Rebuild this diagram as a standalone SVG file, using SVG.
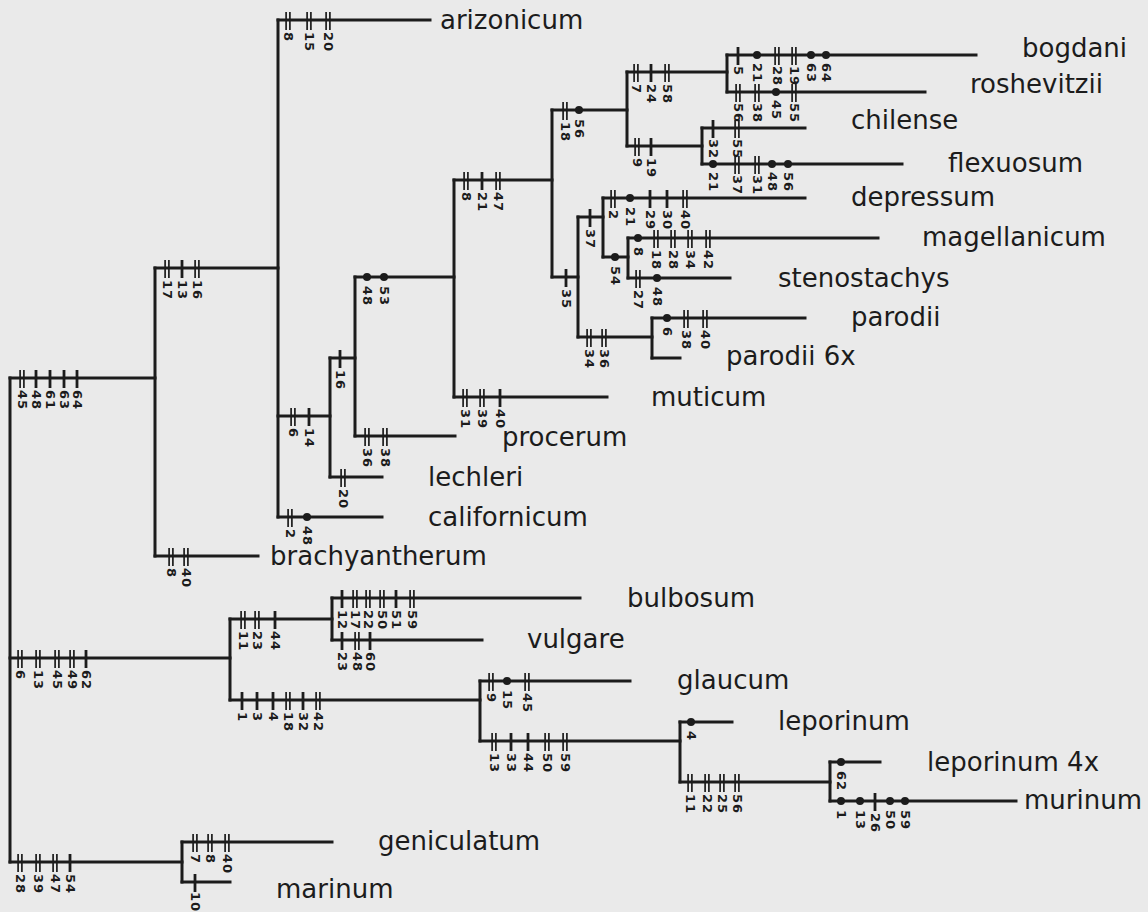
<svg xmlns="http://www.w3.org/2000/svg" xmlns:xlink="http://www.w3.org/1999/xlink" width="1148" height="912" viewBox="0 0 1148 912">
<style>
.ln{stroke:#1c1c1c;stroke-width:3;fill:none;stroke-linecap:square}
.nb{stroke:#1c1c1c;stroke-width:3;fill:none;stroke-linecap:square}
.t{font-family:"DejaVu Sans",sans-serif;font-size:26px;fill:#1c1c1c}
.n{font-family:"DejaVu Sans",sans-serif;font-weight:bold;font-size:13px;letter-spacing:1px;fill:#1c1c1c;dominant-baseline:central}
</style>
<defs>
<g id="s"><line x1="0" y1="-8" x2="0" y2="10" stroke="#1c1c1c" stroke-width="2.8"/></g>
<g id="d"><line x1="-1.9" y1="-8" x2="-1.9" y2="10" stroke="#1c1c1c" stroke-width="1.7"/><line x1="1.9" y1="-8" x2="1.9" y2="10" stroke="#1c1c1c" stroke-width="1.7"/></g>
<g id="o"><circle cx="0" cy="0" r="4" fill="#1c1c1c"/></g>
</defs>
<rect width="1148" height="912" fill="#eaeaea"/>

<g id="connectors" class="ln">
<path d="M10 378H155M155 268H278M155 556H258M278 20H430M278 416H330M278 517H382M330 358H355M330 477H382M355 277H454M355 436H455M454 180H552M454 397H607M552 110H627M552 277H578M627 72H727M627 146H702M727 55H976M727 92H925M702 128H805M702 164H902M578 217H603M578 337H652M603 198H805M603 257H628M628 238H878M628 278H730M652 318H805M652 358H680"/>
<path d="M10 658H230M230 619H332M230 700H480M332 598H580M332 640H482M480 681H630M480 741H680M680 722H732M680 782H830M830 762H880M830 801H1016M10 862H182M182 842H332M182 882H230"/>
</g>

<g id="root" class="nb"><path d="M10 378V862"/></g>
<g id="node-A" class="nb"><path d="M155 268V556"/></g>
<g id="node-B" class="nb"><path d="M278 20V517"/></g>
<g id="node-C" class="nb"><path d="M330 358V477"/></g>
<g id="node-D" class="nb"><path d="M355 277V436"/></g>
<g id="node-E" class="nb"><path d="M454 180V397"/></g>
<g id="node-F" class="nb"><path d="M552 110V277"/></g>
<g id="node-G" class="nb"><path d="M627 72V146"/></g>
<g id="node-I" class="nb"><path d="M727 55V92"/></g>
<g id="node-J" class="nb"><path d="M702 128V164"/></g>
<g id="node-H" class="nb"><path d="M578 217V337"/></g>
<g id="node-K" class="nb"><path d="M603 198V257"/></g>
<g id="node-M" class="nb"><path d="M628 238V278"/></g>
<g id="node-L" class="nb"><path d="M652 318V358"/></g>
<g id="node-N" class="nb"><path d="M230 619V700"/></g>
<g id="node-O" class="nb"><path d="M332 598V640"/></g>
<g id="node-P" class="nb"><path d="M480 681V741"/></g>
<g id="node-Q" class="nb"><path d="M680 722V782"/></g>
<g id="node-R" class="nb"><path d="M830 762V801"/></g>
<g id="node-S" class="nb"><path d="M182 842V882"/></g>

<g id="characters">
<use href="#d" x="22" y="378"/><use href="#s" x="36" y="378"/><use href="#s" x="50" y="378"/><use href="#s" x="64" y="378"/><use href="#s" x="77" y="378"/>
<text class="n" transform="translate(22,390) rotate(90)">45</text><text class="n" transform="translate(36,390) rotate(90)">48</text><text class="n" transform="translate(50,390) rotate(90)">61</text><text class="n" transform="translate(64,390) rotate(90)">63</text><text class="n" transform="translate(77,390) rotate(90)">64</text>
<use href="#d" x="167" y="268"/><use href="#s" x="182" y="268"/><use href="#d" x="197" y="268"/>
<text class="n" transform="translate(167,280) rotate(90)">17</text><text class="n" transform="translate(182,280) rotate(90)">13</text><text class="n" transform="translate(197,280) rotate(90)">16</text>
<use href="#d" x="171" y="556"/><use href="#d" x="186" y="556"/>
<text class="n" transform="translate(171,568) rotate(90)">8</text><text class="n" transform="translate(186,568) rotate(90)">40</text>
<use href="#d" x="288" y="20"/><use href="#d" x="309" y="20"/><use href="#d" x="328" y="20"/>
<text class="n" transform="translate(288,32) rotate(90)">8</text><text class="n" transform="translate(309,32) rotate(90)">15</text><text class="n" transform="translate(328,32) rotate(90)">20</text>
<use href="#d" x="293" y="416"/><use href="#s" x="309" y="416"/>
<text class="n" transform="translate(293,428) rotate(90)">6</text><text class="n" transform="translate(309,428) rotate(90)">14</text>
<use href="#d" x="290" y="517"/><use href="#o" x="307" y="517"/>
<text class="n" transform="translate(290,529) rotate(90)">2</text><text class="n" transform="translate(307,526) rotate(90)">48</text>
<use href="#s" x="340" y="358"/>
<text class="n" transform="translate(340,370) rotate(90)">16</text>
<use href="#d" x="343" y="477"/>
<text class="n" transform="translate(343,489) rotate(90)">20</text>
<use href="#o" x="367" y="277"/><use href="#o" x="384" y="277"/>
<text class="n" transform="translate(367,286) rotate(90)">48</text><text class="n" transform="translate(384,286) rotate(90)">53</text>
<use href="#d" x="367" y="436"/><use href="#d" x="385" y="436"/>
<text class="n" transform="translate(367,448) rotate(90)">36</text><text class="n" transform="translate(385,448) rotate(90)">38</text>
<use href="#d" x="466" y="180"/><use href="#s" x="482" y="180"/><use href="#d" x="498" y="180"/>
<text class="n" transform="translate(466,192) rotate(90)">8</text><text class="n" transform="translate(482,192) rotate(90)">21</text><text class="n" transform="translate(498,192) rotate(90)">47</text>
<use href="#d" x="465" y="397"/><use href="#d" x="482" y="397"/><use href="#s" x="500" y="397"/>
<text class="n" transform="translate(465,409) rotate(90)">31</text><text class="n" transform="translate(482,409) rotate(90)">39</text><text class="n" transform="translate(500,409) rotate(90)">40</text>
<use href="#d" x="565" y="110"/><use href="#o" x="579" y="110"/>
<text class="n" transform="translate(565,122) rotate(90)">18</text><text class="n" transform="translate(579,119) rotate(90)">56</text>
<use href="#s" x="566" y="277"/>
<text class="n" transform="translate(566,289) rotate(90)">35</text>
<use href="#d" x="636" y="72"/><use href="#s" x="651" y="72"/><use href="#d" x="667" y="72"/>
<text class="n" transform="translate(636,84) rotate(90)">7</text><text class="n" transform="translate(651,84) rotate(90)">24</text><text class="n" transform="translate(667,84) rotate(90)">58</text>
<use href="#d" x="637" y="146"/><use href="#s" x="651" y="146"/>
<text class="n" transform="translate(637,158) rotate(90)">9</text><text class="n" transform="translate(651,158) rotate(90)">19</text>
<use href="#s" x="738" y="55"/><use href="#o" x="757" y="55"/><use href="#d" x="777" y="55"/><use href="#d" x="794" y="55"/><use href="#o" x="811" y="55"/><use href="#o" x="826" y="55"/>
<text class="n" transform="translate(738,66) rotate(90)">5</text><text class="n" transform="translate(757,63) rotate(90)">21</text><text class="n" transform="translate(777,66) rotate(90)">28</text><text class="n" transform="translate(794,66) rotate(90)">19</text><text class="n" transform="translate(811,63) rotate(90)">63</text><text class="n" transform="translate(826,63) rotate(90)">64</text>
<use href="#d" x="738" y="92"/><use href="#d" x="757" y="92"/><use href="#o" x="776" y="92"/><use href="#d" x="794" y="92"/>
<text class="n" transform="translate(738,103) rotate(90)">56</text><text class="n" transform="translate(757,103) rotate(90)">38</text><text class="n" transform="translate(776,100) rotate(90)">45</text><text class="n" transform="translate(794,103) rotate(90)">55</text>
<use href="#s" x="713" y="128"/><use href="#d" x="737" y="128"/>
<text class="n" transform="translate(713,139) rotate(90)">32</text><text class="n" transform="translate(737,139) rotate(90)">55</text>
<use href="#o" x="713" y="164"/><use href="#d" x="737" y="164"/><use href="#d" x="757" y="164"/><use href="#o" x="772" y="164"/><use href="#o" x="788" y="164"/>
<text class="n" transform="translate(713,172) rotate(90)">21</text><text class="n" transform="translate(737,175) rotate(90)">37</text><text class="n" transform="translate(757,175) rotate(90)">31</text><text class="n" transform="translate(772,172) rotate(90)">48</text><text class="n" transform="translate(788,172) rotate(90)">56</text>
<use href="#s" x="590" y="217"/>
<text class="n" transform="translate(590,229) rotate(90)">37</text>
<use href="#d" x="589" y="337"/><use href="#d" x="604" y="337"/>
<text class="n" transform="translate(589,349) rotate(90)">34</text><text class="n" transform="translate(604,349) rotate(90)">36</text>
<use href="#d" x="613" y="198"/><use href="#o" x="630" y="198"/><use href="#s" x="650" y="198"/><use href="#s" x="667" y="198"/><use href="#d" x="685" y="198"/>
<text class="n" transform="translate(613,210) rotate(90)">2</text><text class="n" transform="translate(630,207) rotate(90)">21</text><text class="n" transform="translate(650,210) rotate(90)">29</text><text class="n" transform="translate(667,210) rotate(90)">30</text><text class="n" transform="translate(685,210) rotate(90)">40</text>
<use href="#o" x="615" y="257"/>
<text class="n" transform="translate(615,266) rotate(90)">54</text>
<use href="#o" x="638" y="238"/><use href="#d" x="656" y="238"/><use href="#d" x="673" y="238"/><use href="#d" x="690" y="238"/><use href="#d" x="708" y="238"/>
<text class="n" transform="translate(638,247) rotate(90)">8</text><text class="n" transform="translate(656,250) rotate(90)">18</text><text class="n" transform="translate(673,250) rotate(90)">28</text><text class="n" transform="translate(690,250) rotate(90)">34</text><text class="n" transform="translate(708,250) rotate(90)">42</text>
<use href="#d" x="638" y="278"/><use href="#o" x="657" y="278"/>
<text class="n" transform="translate(638,290) rotate(90)">27</text><text class="n" transform="translate(657,287) rotate(90)">48</text>
<use href="#o" x="667" y="318"/><use href="#d" x="686" y="318"/><use href="#d" x="705" y="318"/>
<text class="n" transform="translate(667,327) rotate(90)">6</text><text class="n" transform="translate(686,330) rotate(90)">38</text><text class="n" transform="translate(705,330) rotate(90)">40</text>

<use href="#d" x="20" y="658"/><use href="#d" x="38" y="658"/><use href="#d" x="57" y="658"/><use href="#d" x="72" y="658"/><use href="#s" x="86" y="658"/>
<text class="n" transform="translate(20,670) rotate(90)">6</text><text class="n" transform="translate(38,670) rotate(90)">13</text><text class="n" transform="translate(57,670) rotate(90)">45</text><text class="n" transform="translate(72,670) rotate(90)">49</text><text class="n" transform="translate(86,670) rotate(90)">62</text>
<use href="#d" x="243" y="619"/><use href="#d" x="257" y="619"/><use href="#s" x="275" y="619"/>
<text class="n" transform="translate(243,631) rotate(90)">11</text><text class="n" transform="translate(257,631) rotate(90)">23</text><text class="n" transform="translate(275,631) rotate(90)">44</text>
<use href="#s" x="242" y="700"/><use href="#s" x="257" y="700"/><use href="#s" x="273" y="700"/><use href="#d" x="288" y="700"/><use href="#s" x="303" y="700"/><use href="#d" x="318" y="700"/>
<text class="n" transform="translate(242,712) rotate(90)">1</text><text class="n" transform="translate(257,712) rotate(90)">3</text><text class="n" transform="translate(273,712) rotate(90)">4</text><text class="n" transform="translate(288,712) rotate(90)">18</text><text class="n" transform="translate(303,712) rotate(90)">32</text><text class="n" transform="translate(318,712) rotate(90)">42</text>
<use href="#s" x="342" y="598"/><use href="#d" x="355" y="598"/><use href="#d" x="368" y="598"/><use href="#d" x="382" y="598"/><use href="#s" x="396" y="598"/><use href="#d" x="412" y="598"/>
<text class="n" transform="translate(342,610) rotate(90)">12</text><text class="n" transform="translate(355,610) rotate(90)">17</text><text class="n" transform="translate(368,610) rotate(90)">22</text><text class="n" transform="translate(382,610) rotate(90)">50</text><text class="n" transform="translate(396,610) rotate(90)">51</text><text class="n" transform="translate(412,610) rotate(90)">59</text>
<use href="#s" x="342" y="640"/><use href="#d" x="357" y="640"/><use href="#s" x="370" y="640"/>
<text class="n" transform="translate(342,652) rotate(90)">23</text><text class="n" transform="translate(357,652) rotate(90)">48</text><text class="n" transform="translate(370,652) rotate(90)">60</text>
<use href="#d" x="491" y="681"/><use href="#o" x="507" y="681"/><use href="#d" x="527" y="681"/>
<text class="n" transform="translate(491,693) rotate(90)">9</text><text class="n" transform="translate(507,690) rotate(90)">15</text><text class="n" transform="translate(527,693) rotate(90)">45</text>
<use href="#d" x="494" y="741"/><use href="#s" x="511" y="741"/><use href="#s" x="528" y="741"/><use href="#d" x="547" y="741"/><use href="#d" x="565" y="741"/>
<text class="n" transform="translate(494,753) rotate(90)">13</text><text class="n" transform="translate(511,753) rotate(90)">33</text><text class="n" transform="translate(528,753) rotate(90)">44</text><text class="n" transform="translate(547,753) rotate(90)">50</text><text class="n" transform="translate(565,753) rotate(90)">59</text>
<use href="#o" x="691" y="722"/>
<text class="n" transform="translate(691,731) rotate(90)">4</text>
<use href="#d" x="690" y="782"/><use href="#d" x="707" y="782"/><use href="#d" x="722" y="782"/><use href="#d" x="737" y="782"/>
<text class="n" transform="translate(690,794) rotate(90)">11</text><text class="n" transform="translate(707,794) rotate(90)">22</text><text class="n" transform="translate(722,794) rotate(90)">25</text><text class="n" transform="translate(737,794) rotate(90)">56</text>
<use href="#o" x="841" y="762"/>
<text class="n" transform="translate(841,771) rotate(90)">62</text>
<use href="#o" x="841" y="801"/><use href="#o" x="860" y="801"/><use href="#s" x="875" y="801"/><use href="#o" x="890" y="801"/><use href="#o" x="905" y="801"/>
<text class="n" transform="translate(841,810) rotate(90)">1</text><text class="n" transform="translate(860,810) rotate(90)">13</text><text class="n" transform="translate(875,813) rotate(90)">26</text><text class="n" transform="translate(890,810) rotate(90)">50</text><text class="n" transform="translate(905,810) rotate(90)">59</text>
<use href="#d" x="20" y="862"/><use href="#d" x="38" y="862"/><use href="#d" x="55" y="862"/><use href="#s" x="70" y="862"/>
<text class="n" transform="translate(20,874) rotate(90)">28</text><text class="n" transform="translate(38,874) rotate(90)">39</text><text class="n" transform="translate(55,874) rotate(90)">47</text><text class="n" transform="translate(70,874) rotate(90)">54</text>
<use href="#d" x="195" y="842"/><use href="#d" x="210" y="842"/><use href="#d" x="227" y="842"/>
<text class="n" transform="translate(195,854) rotate(90)">7</text><text class="n" transform="translate(210,854) rotate(90)">8</text><text class="n" transform="translate(227,854) rotate(90)">40</text>
<use href="#s" x="195" y="882"/>
<text class="n" transform="translate(195,892) rotate(90)">10</text>
</g>

<g id="arizonicum"><text class="t" x="440" y="29">arizonicum</text></g>
<g id="bogdani"><text class="t" x="1022" y="57">bogdani</text></g>
<g id="roshevitzii"><text class="t" x="970" y="93">roshevitzii</text></g>
<g id="chilense"><text class="t" x="851" y="129">chilense</text></g>
<g id="flexuosum"><text class="t" x="948" y="172">flexuosum</text></g>
<g id="depressum"><text class="t" x="851" y="206">depressum</text></g>
<g id="magellanicum"><text class="t" x="922" y="246">magellanicum</text></g>
<g id="stenostachys"><text class="t" x="778" y="287">stenostachys</text></g>
<g id="parodii"><text class="t" x="851" y="326">parodii</text></g>
<g id="parodii-6x"><text class="t" x="726" y="365">parodii 6x</text></g>
<g id="muticum"><text class="t" x="651" y="406">muticum</text></g>
<g id="procerum"><text class="t" x="502" y="446">procerum</text></g>
<g id="lechleri"><text class="t" x="428" y="486">lechleri</text></g>
<g id="californicum"><text class="t" x="428" y="526">californicum</text></g>
<g id="brachyantherum"><text class="t" x="270" y="565">brachyantherum</text></g>
<g id="bulbosum"><text class="t" x="627" y="607">bulbosum</text></g>
<g id="vulgare"><text class="t" x="527" y="648">vulgare</text></g>
<g id="glaucum"><text class="t" x="677" y="689">glaucum</text></g>
<g id="leporinum"><text class="t" x="778" y="730">leporinum</text></g>
<g id="leporinum-4x"><text class="t" x="927" y="771">leporinum 4x</text></g>
<g id="murinum"><text class="t" x="1024" y="809">murinum</text></g>
<g id="geniculatum"><text class="t" x="378" y="850">geniculatum</text></g>
<g id="marinum"><text class="t" x="276" y="898">marinum</text></g>
</svg>
